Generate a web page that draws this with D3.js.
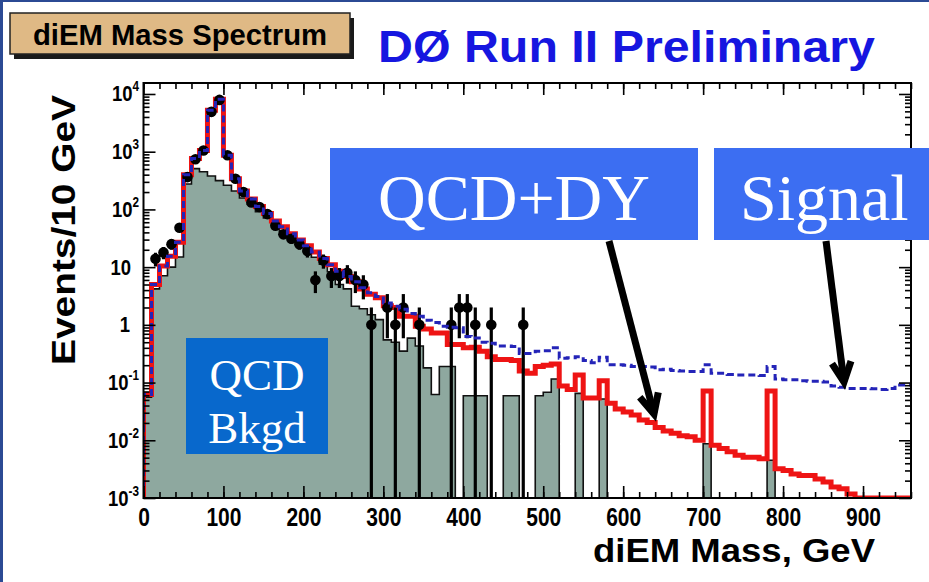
<!DOCTYPE html>
<html>
<head>
<meta charset="utf-8">
<script src="https://cdn.jsdelivr.net/npm/d3@7"></script>
<style>
  html, body { margin: 0; padding: 0; background: #fff; }
  svg { display: block; }
</style>
</head>
<body>
<svg id="chart" width="929" height="582"></svg>
<script>
// diEM invariant mass spectrum, 10 GeV bins from 0 to 960 GeV
const binWidth = 10;
const massMax = 960;

// observed events per bin
const dataCounts = [
  0, 14, 18, 25, 48, 363, 740, 1050, 4900, 7900,
  870, 340, 200, 132, 110, 83, 52, 37, 31, 25,
  19, 6, 13, 7, 7, 8, 6, 5, 1, 0,
  2, 1, 2, 0, 1, 0, 0, 0, 1, 2,
  2, 1, 0, 1, 0, 0, 0, 1, 0, 0,
  0, 0, 0, 0, 0, 0, 0, 0, 0, 0,
  0, 0, 0, 0, 0, 0, 0, 0, 0, 0,
  0, 0, 0, 0, 0, 0, 0, 0, 0, 0,
  0, 0, 0, 0, 0, 0, 0, 0, 0, 0,
  0, 0, 0, 0, 0, 0
];

// QCD (instrumental) background, filled histogram
const qcdBkgd = [
  0.056, 4.2, 7.1, 10, 15, 275, 510, 450, 380, 316,
  263, 209, 158, 123, 91, 71, 52, 42, 32, 24.5,
  19, 14.8, 11.2, 8.3, 5.0, 4.2, 2.1, 1.9, 1.5, 1.23,
  0.55, 0.50, 0.35, 0.59, 0.43, 0.18, 0.062, 0.19, 0.19, 0,
  0.059, 0.059, 0.059, 0, 0, 0.059, 0.059, 0, 0, 0.059,
  0.068, 0.115, 0, 0, 0.065, 0, 0, 0.052, 0, 0,
  0, 0, 0, 0, 0, 0, 0, 0, 0, 0,
  0.0087, 0, 0, 0, 0, 0, 0, 0, 0.0045, 0,
  0, 0, 0, 0, 0, 0, 0, 0, 0, 0,
  0, 0, 0, 0, 0, 0
];

// QCD + Drell-Yan expectation
const qcdPlusDY = [
  0.062, 5.0, 10.5, 15.5, 27, 400, 760, 1050, 5250, 8130,
  870, 340, 209, 151, 112, 85, 63, 50, 38, 29.5,
  23.4, 18.2, 14.1, 11.0, 8.5, 6.9, 5.6, 4.2, 3.4, 2.95,
  2.14, 2.0, 1.41, 1.41, 0.95, 0.85, 0.72, 0.72, 0.457, 0.457,
  0.40, 0.41, 0.35, 0.28, 0.25, 0.25, 0.24, 0.158, 0.145, 0.19,
  0.20, 0.21, 0.087, 0.076, 0.135, 0.054, 0.054, 0.107, 0.044, 0.035,
  0.031, 0.0275, 0.0224, 0.0204, 0.0166, 0.0145, 0.0132, 0.012, 0.0115, 0.0100,
  0.0716, 0.0082, 0.0072, 0.0063, 0.0055, 0.0051, 0.0051, 0.0048, 0.0716, 0.0032,
  0.0030, 0.0026, 0.00245, 0.00245, 0.00214, 0.0019, 0.00155, 0.00145, 0.00117, 0.00100,
  0, 0, 0, 0, 0, 0
];

// signal + background expectation (dashed)
const signalPlusBkgd = [
  0.062, 5.0, 10.5, 15.5, 27, 400, 760, 1050, 5250, 8130,
  870, 340, 209, 151, 112, 85, 63, 50, 38, 29.5,
  23.4, 18.2, 14.1, 11.0, 8.5, 6.9, 5.6, 4.4, 3.6, 3.1,
  2.4, 2.1, 1.86, 1.58, 1.41, 1.2, 1.1, 0.95, 0.91, 0.89,
  0.63, 0.59, 0.50, 0.48, 0.43, 0.43, 0.42, 0.32, 0.32, 0.35,
  0.355, 0.40, 0.263, 0.27, 0.28, 0.24, 0.22, 0.275, 0.204, 0.204,
  0.20, 0.19, 0.19, 0.186, 0.166, 0.17, 0.162, 0.158, 0.155, 0.155,
  0.204, 0.145, 0.145, 0.138, 0.135, 0.135, 0.135, 0.132, 0.19, 0.115,
  0.112, 0.112, 0.107, 0.105, 0.105, 0.102, 0.087, 0.083, 0.079, 0.079,
  0.079, 0.078, 0.076, 0.079, 0.091, 0.091
];

const xMajorTicks = [0, 100, 200, 300, 400, 500, 600, 700, 800, 900];
const yExponents = [-3, -2, -1, 0, 1, 2, 3, 4];

const svg = d3.select("#chart");
const W = 929, H = 582;
const plot = { left: 143.5, right: 911, top: 83, bottom: 498 };

const x = d3.scaleLinear().domain([0, massMax]).range([plot.left, plot.right]);
const yMin = 1e-3, yMax = 1.55e4;
const y = d3.scaleLog().domain([yMin, yMax]).range([plot.bottom, plot.top]);
const yc = v => y(Math.max(v, yMin));

const sans = "'Liberation Sans', Arial, Helvetica, sans-serif";
const serif = "'Liberation Serif', 'DejaVu Serif', serif";
const squeeze = 0.84; // horizontal compression for the narrow bold labels

svg.append("rect").attr("width", W).attr("height", H).attr("fill", "#fff");

// page border
svg.append("rect").attr("x", 0).attr("y", 0).attr("width", W).attr("height", 2).attr("fill", "#2b4a94");
svg.append("rect").attr("x", 0).attr("y", 0).attr("width", 3).attr("height", H).attr("fill", "#2b4a94");

svg.append("defs").append("clipPath").attr("id", "plotClip")
  .append("rect")
  .attr("x", plot.left).attr("y", plot.top)
  .attr("width", plot.right - plot.left).attr("height", plot.bottom - plot.top);

const g = svg.append("g").attr("clip-path", "url(#plotClip)");

// histogram outline as steps, zero bins sit on the lower edge
function stepPath(vals, closed) {
  const p = d3.path();
  p.moveTo(x(0), plot.bottom);
  vals.forEach((v, i) => {
    p.lineTo(x(i * binWidth), yc(v));
    p.lineTo(x((i + 1) * binWidth), yc(v));
  });
  if (closed) { p.lineTo(x(vals.length * binWidth), plot.bottom); p.closePath(); }
  return p.toString();
}

// QCD background
g.append("path")
  .attr("d", stepPath(qcdBkgd, true))
  .attr("fill", "#8ea89f")
  .attr("stroke", "#111")
  .attr("stroke-width", 1.6);

// QCD + DY
g.append("path")
  .attr("d", stepPath(qcdPlusDY, false))
  .attr("fill", "none")
  .attr("stroke", "#ee1414")
  .attr("stroke-width", 5);

// data with sqrt(N) errors
const pts = dataCounts.map((n, i) => ({ n, m: (i + 0.5) * binWidth })).filter(d => d.n > 0);
g.selectAll("line.err").data(pts).enter().append("line")
  .attr("class", "err")
  .attr("x1", d => x(d.m)).attr("x2", d => x(d.m))
  .attr("y1", d => yc(d.n - Math.sqrt(d.n)))
  .attr("y2", d => yc(d.n + Math.sqrt(d.n)))
  .attr("stroke", "#000").attr("stroke-width", 3.2);
g.selectAll("circle.pt").data(pts).enter().append("circle")
  .attr("class", "pt")
  .attr("cx", d => x(d.m)).attr("cy", d => yc(d.n))
  .attr("r", 5.3).attr("fill", "#000");

// signal + background, dashed
g.append("path")
  .attr("d", stepPath(signalPlusBkgd, false))
  .attr("fill", "none")
  .attr("stroke", "#2424b8")
  .attr("stroke-width", 3)
  .attr("stroke-dasharray", "7,4");

// axes with inward ticks on all four sides
const xMinor = d3.range(0, massMax + 1, 20);
const yMinorVals = [];
yExponents.forEach(e => { for (let k = 2; k <= 9; k++) { const v = k * Math.pow(10, e); if (v < yMax) yMinorVals.push(v); } });
const yMajorVals = yExponents.map(e => Math.pow(10, e));

function axisGroup(axis, tx, ty) {
  const a = svg.append("g").attr("transform", `translate(${tx},${ty})`).call(axis);
  a.select(".domain").remove();
  a.selectAll("line").attr("stroke", "#000").attr("stroke-width", 1.6);
  return a;
}

axisGroup(d3.axisBottom(x).tickValues(xMinor).tickSize(-6).tickFormat(""), 0, plot.bottom);
axisGroup(d3.axisTop(x).tickValues(xMinor).tickSize(-6).tickFormat(""), 0, plot.top);
axisGroup(d3.axisTop(x).tickValues(xMajorTicks).tickSize(-12).tickFormat(""), 0, plot.top);
const xAx = axisGroup(d3.axisBottom(x).tickValues(xMajorTicks).tickSize(-12).tickPadding(10).tickFormat(d3.format("d")), 0, plot.bottom);
xAx.selectAll("text")
  .attr("font-family", sans).attr("font-weight", "bold").attr("font-size", 25).attr("fill", "#000")
  .attr("transform", `scale(${squeeze},1)`);

axisGroup(d3.axisLeft(y).tickValues(yMinorVals).tickSize(-6).tickFormat(""), plot.left, 0);
axisGroup(d3.axisRight(y).tickValues(yMinorVals).tickSize(-6).tickFormat(""), plot.right, 0);
axisGroup(d3.axisLeft(y).tickValues(yMajorVals).tickSize(-12).tickFormat(""), plot.left, 0);
axisGroup(d3.axisRight(y).tickValues(yMajorVals).tickSize(-12).tickFormat(""), plot.right, 0);

// y labels with superscript exponents
yExponents.forEach(e => {
  const right = (e === 0) ? 130 : (e === 1 ? 131 : 139);
  const t = svg.append("g")
    .attr("transform", `translate(${right},${y(Math.pow(10, e)) + 7.5}) scale(${squeeze},1)`)
    .append("text")
    .attr("font-family", sans).attr("font-weight", "bold").attr("font-size", 22)
    .attr("text-anchor", "end").attr("fill", "#000");
  if (e === 0) t.text("1");
  else if (e === 1) t.text("10");
  else {
    t.append("tspan").text("10");
    t.append("tspan").attr("font-size", 14).attr("dy", -10).text(String(e));
  }
});

// frame
svg.append("rect")
  .attr("x", plot.left).attr("y", plot.top)
  .attr("width", plot.right - plot.left).attr("height", plot.bottom - plot.top)
  .attr("fill", "none").attr("stroke", "#000").attr("stroke-width", 2);

// axis titles
svg.append("text")
  .attr("x", 593).attr("y", 562)
  .attr("textLength", 282).attr("lengthAdjust", "spacingAndGlyphs")
  .attr("font-family", sans).attr("font-weight", "bold").attr("font-size", 33)
  .attr("fill", "#000").text("diEM Mass, GeV");
svg.append("text")
  .attr("transform", "translate(75,365) rotate(-90)")
  .attr("textLength", 270).attr("lengthAdjust", "spacingAndGlyphs")
  .attr("font-family", sans).attr("font-weight", "bold").attr("font-size", 33)
  .attr("fill", "#000").text("Events/10 GeV");

// header
svg.append("rect").attr("x", 14).attr("y", 18).attr("width", 340).attr("height", 41).attr("fill", "#1a1a1a");
svg.append("rect").attr("x", 10).attr("y", 13).attr("width", 340).attr("height", 41)
  .attr("fill", "#dfb985").attr("stroke", "#222").attr("stroke-width", 1.5);
svg.append("text")
  .attr("x", 33).attr("y", 45)
  .attr("textLength", 294).attr("lengthAdjust", "spacingAndGlyphs")
  .attr("font-family", sans).attr("font-weight", "bold").attr("font-size", 30)
  .attr("fill", "#000").text("diEM Mass Spectrum");
svg.append("text")
  .attr("x", 378).attr("y", 62)
  .attr("textLength", 497).attr("lengthAdjust", "spacingAndGlyphs")
  .attr("font-family", sans).attr("font-weight", "bold").attr("font-size", 44)
  .attr("fill", "#1616e0").text("DØ Run II Preliminary");

// annotation labels
function labelBox(bx, by, bw, bh, fill, lines, size, baselines, tx, anchor) {
  svg.append("rect").attr("x", bx).attr("y", by).attr("width", bw).attr("height", bh).attr("fill", fill);
  const t = svg.append("text")
    .attr("text-anchor", anchor)
    .attr("font-family", serif).attr("font-size", size)
    .attr("fill", "#fff");
  lines.forEach((s, i) => {
    t.append("tspan").attr("x", tx).attr("y", baselines[i]).text(s);
  });
}
labelBox(330, 148, 368, 92, "#3c6ef2", ["QCD+DY"], 66, [220], 514, "middle");
labelBox(714, 148, 230, 92, "#3c6ef2", ["Signal"], 66, [220], 740, "start");
labelBox(186, 338, 142, 116, "#0868cc", ["QCD", "Bkgd"], 45, [390, 443], 257, "middle");

// arrows
function arrow(x1, y1, x2, y2) {
  const ang = Math.atan2(y2 - y1, x2 - x1);
  const len = 22, spread = 0.45;
  svg.append("line").attr("x1", x1).attr("y1", y1).attr("x2", x2).attr("y2", y2)
    .attr("stroke", "#000").attr("stroke-width", 7);
  const p = d3.path();
  p.moveTo(x2 - len * Math.cos(ang - spread), y2 - len * Math.sin(ang - spread));
  p.lineTo(x2, y2);
  p.lineTo(x2 - len * Math.cos(ang + spread), y2 - len * Math.sin(ang + spread));
  svg.append("path").attr("d", p.toString()).attr("fill", "none")
    .attr("stroke", "#000").attr("stroke-width", 7).attr("stroke-linejoin", "miter");
}
arrow(609, 241, 654, 414);
arrow(826, 241, 844, 382);
</script>
</body>
</html>
